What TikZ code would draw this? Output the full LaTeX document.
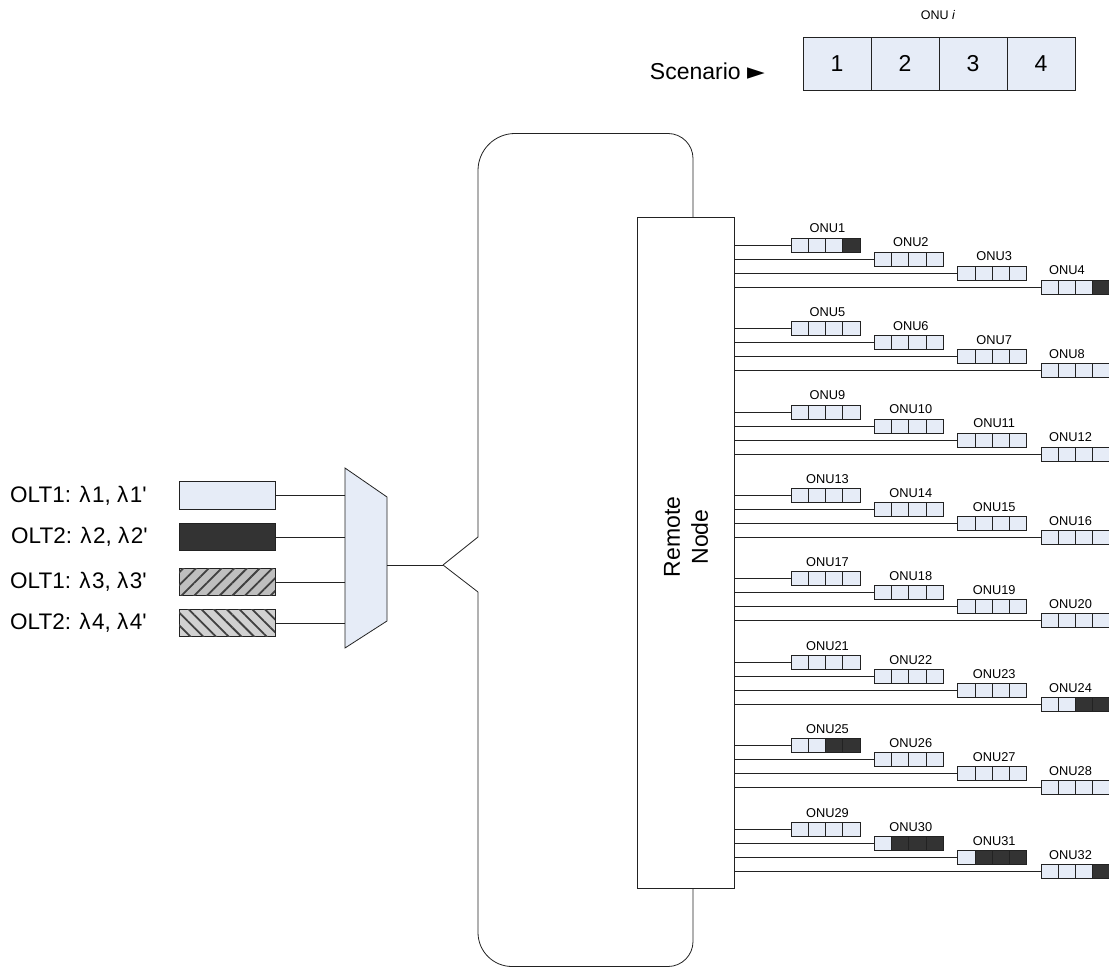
\documentclass[tikz,border=0pt]{standalone}
\usepackage{fontspec}
\setmainfont{Liberation Sans}
\newfontfamily\oltfont{Liberation Sans}
\newfontfamily\dejavu{DejaVu Sans}
\usetikzlibrary{patterns.meta,calc}
\definecolor{lb}{HTML}{E6ECF7}
\definecolor{dk}{HTML}{333333}
\definecolor{ln}{HTML}{222222}
\newcommand\lam{λ\hspace{1.5pt}}
\begin{document}
\begin{tikzpicture}[x=1pt,y=-1pt,
  wire/.style={draw=ln, line width=0.8pt},
  cell/.style={draw=ln, line width=0.8pt, minimum width=17.25pt, minimum height=14pt, inner sep=0pt, outer sep=0pt, anchor=west},
  lcell/.style={draw=ln, line width=0.8pt, fill=lb, minimum width=68pt, minimum height=53pt, inner sep=0pt, outer sep=0pt, font=\fontsize{23}{27}\selectfont},
  onulabel/.style={anchor=base, inner sep=0pt, font=\fontsize{12.8}{15}\selectfont},
  bigtext/.style={inner sep=0pt, font=\fontsize{23}{28}\selectfont},
  olttext/.style={anchor=west, inner sep=0pt, font=\oltfont\fontsize{22.5}{27}\selectfont},
  oltbox/.style={draw=ln, line width=0.8pt, minimum width=96pt, minimum height=27.5pt, inner sep=0pt, outer sep=0pt}
]
\useasboundingbox (0,0) rectangle (1109,968);

% legend
\node[anchor=base, inner sep=0pt, font=\fontsize{12.5}{15}\selectfont] (onui) at (938,19.5) {ONU \textit{i}};
\foreach \n in {1,2,3,4}
  \node[lcell] (s\n) at (803+68*\n-34, 63.5) {\n};
\node[bigtext, anchor=east] (scen) at (765,71) {Scenario {\dejavu\fontsize{23}{27}\selectfont ►}};

% OLT rows
\node[olttext] (t1) at (10,495.5) {OLT1: \lam1, \lam1'};
\node[olttext] (t2) at (11,537) {OLT2: \lam2, \lam2'};
\node[olttext] (t3) at (10,582) {OLT1: \lam3, \lam3'};
\node[olttext] (t4) at (10,623) {OLT2: \lam4, \lam4'};
\node[oltbox, fill=lb] (b1) at (227,495.5) {};
\node[oltbox, fill=dk] (b2) at (227,537) {};
\node[oltbox, fill=black!25, postaction={pattern={Lines[angle=45,distance=9pt,line width=1.8pt]}, pattern color=black!75}] (b3) at (227,582) {};
\node[oltbox, fill=black!18, postaction={pattern={Lines[angle=-45,distance=9pt,line width=1.8pt]}, pattern color=black!75}] (b4) at (227,623) {};

% multiplexer
\draw[wire, fill=lb] (345,468) -- (387,497) -- (387,621) -- (345,648) -- cycle;
\coordinate (muxin) at (345,560);
\coordinate (muxout) at (387,565);
\coordinate (split) at (443,565);
\foreach \b in {b1,b2,b3,b4}
  \draw[wire] (\b.east) -- (\b.east -| muxin);
\draw[wire] (muxout) -- (split);

% remote node
\node[draw=ln, line width=0.8pt, fill=white, minimum width=97pt, minimum height=671pt, inner sep=0pt, outer sep=0pt] (rn) at (685.5,552.5) {};
\node[bigtext, rotate=90, align=center] (rntext) at (686,537) {Remote\\Node};

% fibre loop
\coordinate (upL) at (478,537);
\coordinate (dnL) at (478,592);
\coordinate (rnT) at (693,217);
\coordinate (rnB) at (693,888);
\draw[wire] (split) -- (upL);
\draw[wire] (split) -- (dnL);
\draw[wire, rounded corners=37pt] (upL) -- (478,133.5) -- (600,133.5);
\draw[wire, rounded corners=25pt] (600,133.5) -- (693,133.5) -- (rnT);
\draw[wire, rounded corners=34pt] (dnL) -- (478,966.5) -- (600,966.5);
\draw[wire, rounded corners=25pt] (600,966.5) -- (693,966.5) -- (rnB);

% ONUs
\foreach \i/\d in {1/1,2/0,3/0,4/1,5/0,6/0,7/0,8/0,9/0,10/0,11/0,12/0,13/0,14/0,15/0,16/0,
                   17/0,18/0,19/0,20/0,21/0,22/0,23/0,24/2,25/2,26/0,27/0,28/0,29/0,30/3,31/3,32/1} {
  \pgfmathtruncatemacro{\g}{div(\i-1,4)}
  \pgfmathtruncatemacro{\k}{mod(\i-1,4)}
  \pgfmathsetmacro{\yy}{245+83.45*\g+14*\k}
  \pgfmathsetmacro{\xx}{791+83.33*\k}
  \foreach \c in {1,2,3,4} {
    \pgfmathsetmacro{\cx}{\xx+17.25*(\c-1)}
    \ifnum\c>\numexpr4-\d\relax\def\cc{dk}\else\def\cc{lb}\fi
    \node[cell, fill=\cc] (o\i-\c) at (\cx,\yy) {};
  }
  \ifnum\k=3
    \node[onulabel, anchor=base west] (l\i) at (1049,\yy-12) {ONU\i};
  \else
    \node[onulabel] (l\i) at (\xx+36.5,\yy-12) {ONU\i};
  \fi
  \draw[wire] (rn.east |- o\i-1.west) -- (o\i-1.west);
}
\end{tikzpicture}
\end{document}
